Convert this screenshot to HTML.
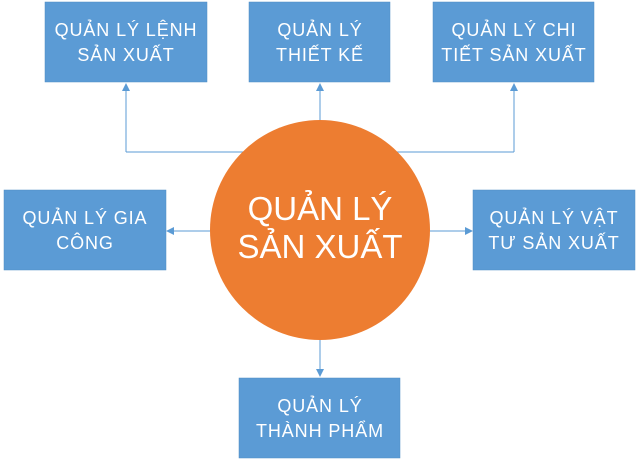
<!DOCTYPE html>
<html><head><meta charset="utf-8"><style>
html,body{margin:0;padding:0;background:#fff;}
svg{display:block;}
text{font-family:"Liberation Sans","DejaVu Sans",sans-serif;fill:#fff;text-anchor:middle;}
</style></head><body>
<svg width="640" height="465" viewBox="0 0 640 465" xmlns="http://www.w3.org/2000/svg">
<defs>
<marker id="a" markerWidth="8" markerHeight="8" refX="7" refY="4" orient="auto" markerUnits="userSpaceOnUse">
<path d="M0,0 L8,4 L0,8 z" fill="#5B9BD5"/></marker>
</defs>
<g stroke="#5B9BD5" stroke-width="1" fill="none">
<path d="M126,152 L126,84" marker-end="url(#a)"/>
<path d="M514,152 L514,84" marker-end="url(#a)"/>
<path d="M126,152 L514,152"/>
<path d="M320,120 L320,84" marker-end="url(#a)"/>
<path d="M210,231 L167,231" marker-end="url(#a)"/>
<path d="M430,231 L472,231" marker-end="url(#a)"/>
<path d="M320,340 L320,376" marker-end="url(#a)"/>
</g>
<g fill="#5B9BD5" stroke="#4E8CC4" stroke-width="0.5">
<rect x="45" y="2" width="162" height="80"/>
<rect x="249" y="2" width="141" height="80"/>
<rect x="433" y="2" width="161" height="80"/>
<rect x="4" y="190" width="162" height="80"/>
<rect x="473" y="190" width="162" height="80"/>
<rect x="239" y="378" width="161" height="80"/>
</g>
<circle cx="320" cy="230" r="110" fill="#ED7D31"/>
<g font-size="18" letter-spacing="0.9">
<text x="126" y="36">QUẢN LÝ LỆNH</text><text x="126" y="61">SẢN XUẤT</text>
<text x="320" y="36">QUẢN LÝ</text><text x="320" y="61">THIẾT KẾ</text>
<text x="514" y="36">QUẢN LÝ CHI</text><text x="514" y="61">TIẾT SẢN XUẤT</text>
<text x="85" y="224">QUẢN LÝ GIA</text><text x="85" y="249">CÔNG</text>
<text x="554" y="224">QUẢN LÝ VẬT</text><text x="554" y="249">TƯ SẢN XUẤT</text>
<text x="320" y="412">QUẢN LÝ</text><text x="320" y="437">THÀNH PHẨM</text>
</g>
<g font-size="33">
<text x="320" y="220">QUẢN LÝ</text>
<text x="320" y="258">SẢN XUẤT</text>
</g>
</svg>
</body></html>
